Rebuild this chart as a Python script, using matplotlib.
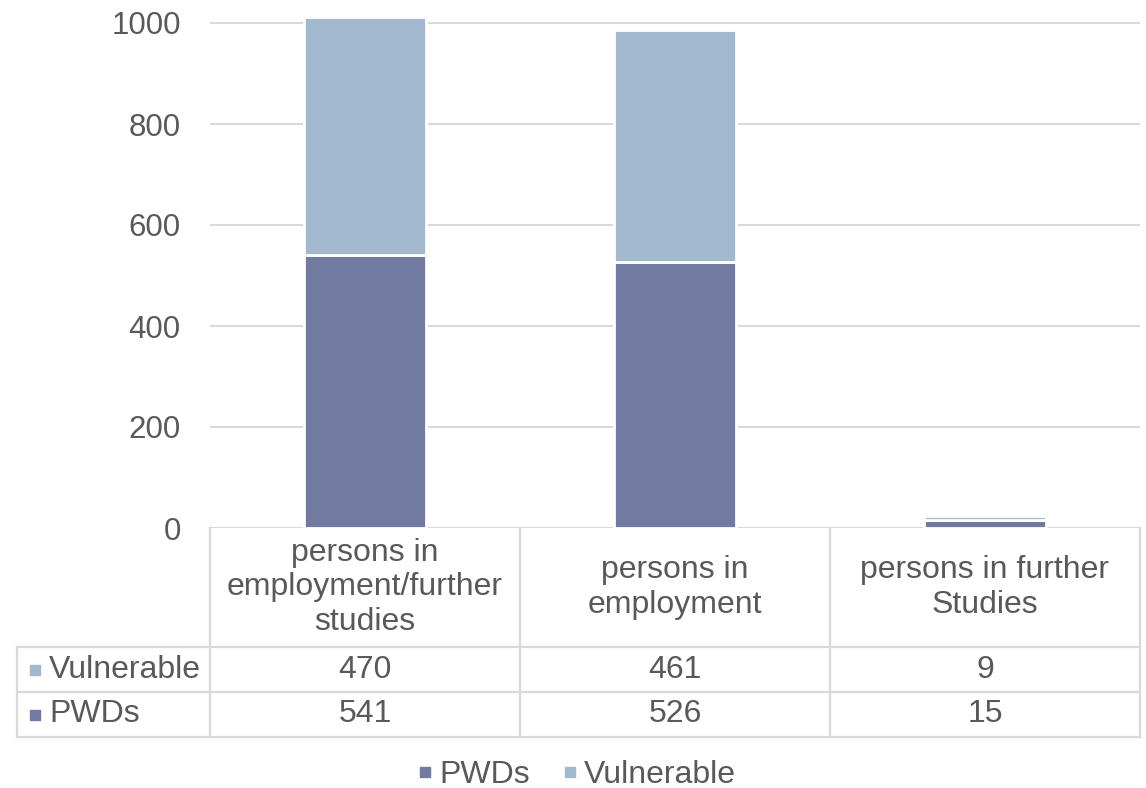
import numpy as np
import matplotlib.pyplot as plt
from matplotlib.lines import Line2D

plt.rcParams['font.family'] = ['Liberation Sans', 'DejaVu Sans']

categories = ['persons in\nemployment/further\nstudies', 'persons in\nemployment', 'persons in further\nStudies']
series_names = ['PWDs', 'Vulnerable']
pwds = [541, 526, 15]
vulnerable = [470, 461, 9]
yticks = [0, 200, 400, 600, 800, 1000]

col_pwd = '#717AA0'
col_vul = '#A2B8CE'
txt = '#595959'
grid = '#D9D9D9'
fs = 23

fig = plt.figure(figsize=(11.46, 7.88), dpi=100)
W, H = 1146, 788
ax_h = 528  # axes from figure top down to the zero line, in px
ax = fig.add_axes([210 / W, 1 - 528 / H, 930 / W, ax_h / H])
px_per_unit = 505 / 1000

x = np.arange(len(categories))
ax.bar(x, pwds, width=0.395, color=col_pwd, edgecolor='white', linewidth=2, zorder=3)
ax.bar(x, vulnerable, bottom=pwds, width=0.395, color=col_vul, edgecolor='white', linewidth=2, zorder=3)

ax.set_xlim(-0.5, len(categories) - 0.5)
ax.set_ylim(0, ax_h / px_per_unit)
ax.set_yticks(yticks)
ax.set_xticks([])
ax.yaxis.grid(True, color=grid, linewidth=1.5, zorder=0)
ax.set_axisbelow(True)
for s in ax.spines.values():
    s.set_visible(False)
ax.tick_params(axis='y', length=0, pad=21, labelsize=fs - 0.5, labelcolor=txt)

# data table under the plot
tr = ax.get_xaxis_transform()
tr_ax = ax.transAxes
h_top = -119 / ax_h
r_mid = -164 / ax_h
r_bot = -209 / ax_h
left = (17 - 210) / 930
lw = 1.6

def hline(y, x0, x1):
    ax.add_line(Line2D([x0, x1], [y, y], transform=tr_ax, color=grid, lw=lw, clip_on=False))

def vline(xa, y0, y1):
    ax.add_line(Line2D([xa, xa], [y0, y1], transform=tr_ax, color=grid, lw=lw, clip_on=False))

hline(h_top, left, 1)
hline(r_mid, left, 1)
hline(r_bot, left, 1)
vline(left, h_top, r_bot)
for i in range(len(categories) + 1):
    vline(i / len(categories), 0, r_bot)

for i, c in enumerate(categories):
    ax.text(x[i], h_top / 2, c, transform=tr, ha='center', va='center',
            fontsize=fs, color=txt, linespacing=1.18)
    ax.text(x[i], (h_top + r_mid) / 2, str(vulnerable[i]), transform=tr,
            ha='center', va='center', fontsize=fs, color=txt)
    ax.text(x[i], (r_mid + r_bot) / 2, str(pwds[i]), transform=tr,
            ha='center', va='center', fontsize=fs, color=txt)

rows = [('Vulnerable', col_vul, (h_top + r_mid) / 2), ('PWDs', col_pwd, (r_mid + r_bot) / 2)]
for name, col, yy in rows:
    ax.plot([(35 - 210) / 930], [yy], marker='s', markersize=7.5, color=col,
            transform=tr_ax, clip_on=False, linestyle='none')
    ax.text((49 - 210) / 930, yy, name, transform=tr_ax, ha='left', va='center',
            fontsize=fs, color=txt)

handles = [Line2D([], [], marker='s', markersize=7.5, color=col_pwd, linestyle='none'),
           Line2D([], [], marker='s', markersize=7.5, color=col_vul, linestyle='none')]
fig.legend(handles, series_names, loc='center', bbox_to_anchor=(575 / W, 1 - 775 / H),
           ncol=2, frameon=False, fontsize=fs, labelcolor=txt, handletextpad=0.1,
           columnspacing=0.9, handlelength=0.7)

fig.savefig('out.png', dpi=100)
